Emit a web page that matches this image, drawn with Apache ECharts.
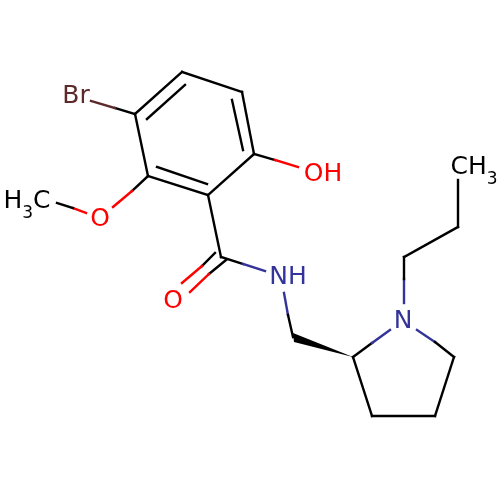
<!DOCTYPE html>
<html>
<head>
<meta charset="utf-8">
<style>html,body{margin:0;padding:0;background:#fff}#c{width:500px;height:500px}</style>
<script src="https://cdn.jsdelivr.net/npm/echarts@6/dist/echarts.min.js"></script>
</head>
<body>
<div id="c"></div>
<script>
var BLACK = '#000000', RED = '#ff0000', BLUE = '#333399', BROWN = '#5c2a2a';

// Bond segments: x1, y1, x2, y2, colour
var ringBonds = [
  [135,114,182,72,BLACK],[182,72,242,92,BLACK],[242,92,254,154,BLACK],
  [254,154,208,195,BLACK],[208,195,148,176,BLACK],[148,176,135,114,BLACK],
  [147,119,185,85,BLACK],[232,100,243,150,BLACK],[157,167,207,184,BLACK]
];
var substituentBonds = [
  [135,114,115,108,BLACK],[115,108,91,101,BROWN],
  [148,176,132,191,BLACK],[132,191,113,207,RED],
  [86,213,73,208,RED],[73,208,57,203,BLACK],
  [254,154,275,160,BLACK],[275,160,298,167,RED],
  [208,195,221,257,BLACK]
];
var amideBonds = [
  [215,253,202,266,BLACK],[202,266,182,283,RED],
  [226,260,209,274,BLACK],[209,274,190,292,RED],
  [221,257,243,264,BLACK],[243,264,265,271,BLUE],
  [284,293,288,315,BLUE],[288,315,293,337,BLACK]
];
var pyrrolidineBonds = [
  [353,357,372,343,BLACK],[372,343,390,330,BLUE],
  [417,330,435,342,BLUE],[435,342,454,357,BLACK],
  [454,357,435,416,BLACK],[435,416,372,416,BLACK],[372,416,353,357,BLACK]
];
var propylBonds = [
  [404,303,404,279,BLUE],[404,279,404,257,BLACK],
  [404,257,458,227,BLACK],[458,227,458,180,BLACK]
];
var wedgeBond = [[293,333],[294,342],[353,357]];

// Atom labels: text, x, y, colour
var atomLabels = [
  ['Br',76,96,BROWN],
  ['H{s|3}C',27,201,BLACK],
  ['O',100,219,RED],
  ['OH',323,174,RED],
  ['O',173,301,RED],
  ['NH',288,277,BLUE],
  ['N',403,321,BLUE],
  ['CH{s|3}',474,167,BLACK]
];

var allBonds = ringBonds.concat(substituentBonds, amideBonds, pyrrolidineBonds, propylBonds);

var chart = echarts.init(document.getElementById('c'), null, {renderer:'canvas'});
chart.setOption({
  animation: false,
  backgroundColor: '#ffffff',
  grid: {left:0, right:0, top:0, bottom:0},
  xAxis: {type:'value', min:0, max:500, show:false},
  yAxis: {type:'value', min:0, max:500, inverse:true, show:false},
  series: [
    {
      type:'custom', coordinateSystem:'cartesian2d', silent:true, clip:false,
      data: allBonds,
      encode:{x:[0,2], y:[1,3]},
      renderItem: function (params, api) {
        var a = api.coord([api.value(0), api.value(1)]);
        var b = api.coord([api.value(2), api.value(3)]);
        return {type:'line', shape:{x1:a[0],y1:a[1],x2:b[0],y2:b[1]},
          style:{stroke:allBonds[params.dataIndex][4], lineWidth:2.4, lineCap:'square'}};
      }
    },
    {
      type:'custom', coordinateSystem:'cartesian2d', silent:true, clip:false,
      data: wedgeBond,
      encode:{x:0, y:1},
      renderItem: function (params, api) {
        if (params.dataIndex !== 0) return null;
        return {type:'polygon', shape:{points:wedgeBond.map(function(p){return api.coord(p);})},
          style:{fill:BLACK}};
      }
    },
    {
      type:'scatter', symbolSize:0, silent:true, clip:false,
      itemStyle:{opacity:1},
      data: atomLabels.map(function (a) {
        return {value:[a[1],a[2]], itemStyle:{opacity:1}, label:{
          show:true, position:'inside', align:'center', verticalAlign:'middle', opacity:1,
          formatter:a[0], color:a[3], fontFamily:'DejaVu Sans', fontSize:25,
          rich:{s:{fontFamily:'DejaVu Sans', fontSize:17, color:a[3], opacity:1, padding:[26,0,0,0]}}
        }};
      })
    }
  ]
});
</script>
</body>
</html>
